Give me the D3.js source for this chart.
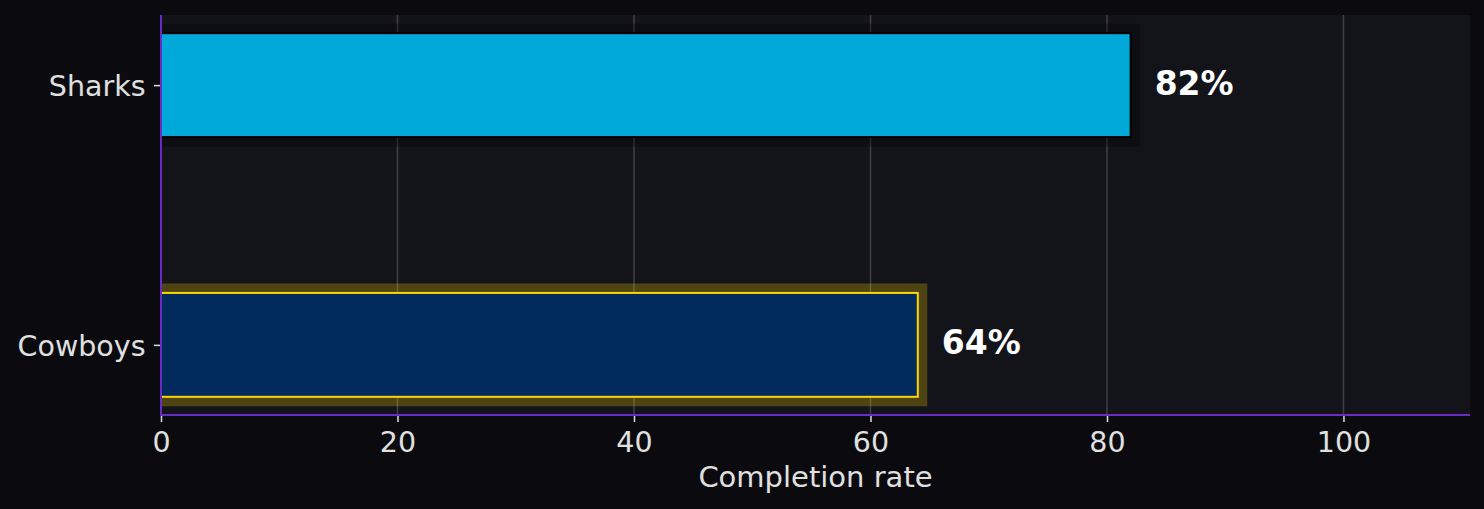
<!DOCTYPE html>
<html>
<head>
<meta charset="utf-8">
<script src="https://cdn.jsdelivr.net/npm/d3@7"></script>
<style>
  html, body { margin: 0; padding: 0; background: #0b0b0f; }
  svg { display: block; font-family: "DejaVu Sans", sans-serif; }
</style>
</head>
<body>
<svg width="1484" height="509"></svg>
<script>
// data (bottom to top)
const teams = ["Cowboys", "Sharks"];
const rates = [64, 82];
const fills = ["#002b5c", "#00a9d8"];
const xTicks = [0, 20, 40, 60, 80, 100];

const svg = d3.select("svg");
const margin = { left: 161, right: 14, top: 15, bottom: 94 };
const width = 1484 - margin.left - margin.right;
const height = 509 - margin.top - margin.bottom;

const x = d3.scaleLinear().domain([0, 110.7]).range([0, width]);
// bars at 0 and 1 with height 0.4, padded like matplotlib margins
const y = d3.scaleLinear().domain([-0.27, 1.27]).range([height, 0]);
const barH = 0.4;

svg.append("defs")
  .append("clipPath")
  .attr("id", "plot")
  .append("rect")
  .attr("width", width)
  .attr("height", height);

const g = svg.append("g").attr("transform", `translate(${margin.left},${margin.top})`);

// axes background
g.append("rect")
  .attr("width", width)
  .attr("height", height)
  .attr("fill", "#13131a");

// grid lines
g.selectAll("line.grid")
  .data(xTicks)
  .enter()
  .append("line")
  .attr("class", "grid")
  .attr("x1", d => x(d))
  .attr("x2", d => x(d))
  .attr("y1", 0)
  .attr("y2", height)
  .attr("stroke", "#404046")
  .attr("stroke-width", 1.5);

const bars = g.append("g").attr("clip-path", "url(#plot)");

// halo / shadow behind each bar
bars.selectAll("rect.halo")
  .data(rates)
  .enter()
  .append("rect")
  .attr("class", "halo")
  .attr("x", -10)
  .attr("y", (d, i) => y(i + barH / 2) - 9.5)
  .attr("width", d => x(d) + 19.5)
  .attr("height", y(-barH / 2) - y(barH / 2) + 19)
  .attr("fill", (d, i) => i === 0 ? "#ffd700" : "#000000")
  .attr("fill-opacity", (d, i) => i === 0 ? 0.25 : 0.3);

// bars
bars.selectAll("rect.bar")
  .data(rates)
  .enter()
  .append("rect")
  .attr("class", "bar")
  .attr("x", 0)
  .attr("y", (d, i) => y(i + barH / 2))
  .attr("width", d => x(d))
  .attr("height", y(-barH / 2) - y(barH / 2))
  .attr("fill", (d, i) => fills[i])
  .attr("stroke", (d, i) => i === 0 ? "#ffd700" : "#000000")
  .attr("stroke-width", 2);

// value labels
g.selectAll("text.value")
  .data(rates)
  .enter()
  .append("text")
  .attr("class", "value")
  .attr("x", d => x(d) + 24)
  .attr("y", (d, i) => y(i))
  .attr("dy", "0.29em")
  .attr("fill", "#ffffff")
  .attr("font-weight", "bold")
  .attr("font-size", 33)
  .text(d => `${d}%`);

// x axis
const xAxis = g.append("g")
  .attr("transform", `translate(0,${height})`)
  .call(d3.axisBottom(x).tickValues(xTicks).tickSize(7).tickPadding(9.5).tickFormat(d3.format("d")));
xAxis.select(".domain").remove();
xAxis.selectAll(".tick line").attr("stroke", "#dddddd").attr("stroke-width", 1.5);
xAxis.selectAll(".tick text")
  .attr("fill", "#e0e0e0")
  .attr("font-size", 28.5)
  .attr("font-family", "DejaVu Sans");

// y axis
const yAxis = g.append("g")
  .call(d3.axisLeft(y).tickValues([0, 1]).tickSize(7).tickPadding(8.5).tickFormat(i => teams[i]));
yAxis.select(".domain").remove();
yAxis.selectAll(".tick line").attr("stroke", "#dddddd").attr("stroke-width", 1.5);
yAxis.selectAll(".tick text")
  .attr("fill", "#e0e0e0")
  .attr("font-size", 28.5)
  .attr("dy", "0.36em")
  .attr("font-family", "DejaVu Sans");

// spines
g.append("line")
  .attr("x1", 0).attr("x2", 0)
  .attr("y1", 0).attr("y2", height)
  .attr("stroke", "#6a2ac8").attr("stroke-width", 2);
g.append("line")
  .attr("x1", 0).attr("x2", width)
  .attr("y1", height).attr("y2", height)
  .attr("stroke", "#6a2ac8").attr("stroke-width", 2);

// axis title
g.append("text")
  .attr("x", width / 2)
  .attr("y", height + 72)
  .attr("text-anchor", "middle")
  .attr("fill", "#e0e0e0")
  .attr("font-size", 29)
  .text("Completion rate");
</script>
</body>
</html>
